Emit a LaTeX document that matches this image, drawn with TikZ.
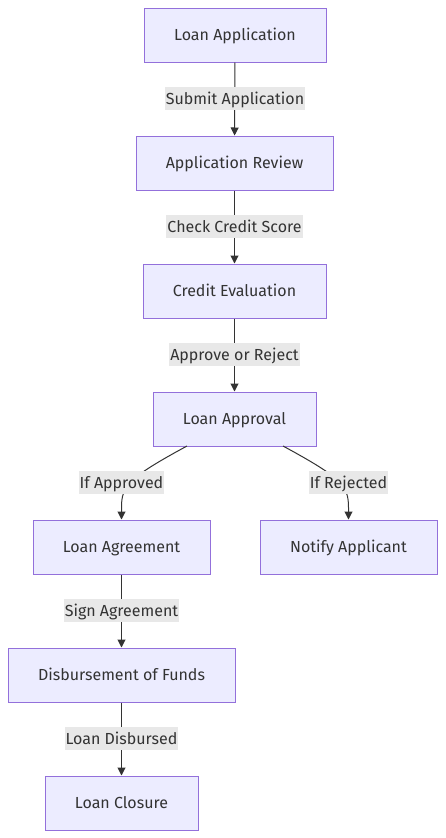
\documentclass[tikz,border=0pt]{standalone}
\usepackage{fontspec}
\setmainfont{Fira Sans}
\usetikzlibrary{arrows.meta,calc}
\definecolor{nodefill}{HTML}{ECECFF}
\definecolor{nodedraw}{HTML}{9370DB}
\definecolor{txt}{HTML}{333333}
\definecolor{lblbg}{HTML}{E8E8E8}
\tikzset{
  box/.style={draw=nodedraw, fill=nodefill, line width=1pt, minimum height=54pt, inner sep=0pt, text height=13.5pt, text depth=2.5pt, text=txt, font=\fontsize{16}{19}\selectfont},
  lbl/.style={fill=lblbg, text=txt, inner xsep=1pt, inner ysep=3.75pt, text height=13.5pt, text depth=2.5pt, font=\fontsize{16}{19}\selectfont},
  arr/.style={draw=txt, line width=1pt, -{Triangle[length=8pt,width=8pt]}}
}
\begin{document}
\begin{tikzpicture}[x=1pt,y=-1pt]
\useasboundingbox (0,0) rectangle (445,838);
\node[box, minimum width=182pt] (la) at (235,35) {Loan Application};
\node[box, minimum width=197pt] (ar) at (234.5,163) {Application Review};
\node[box, minimum width=183pt] (ce) at (234.5,291) {Credit Evaluation};
\node[box, minimum width=163pt] (ap) at (234.5,419) {Loan Approval};
\node[box, minimum width=177pt] (ag) at (121.5,547) {Loan Agreement};
\node[box, minimum width=177pt] (na) at (348.5,547) {Notify Applicant};
\node[box, minimum width=227pt] (df) at (121.5,675) {Disbursement of Funds};
\node[box, minimum width=153pt] (lc) at (121.5,803) {Loan Closure};

\draw[arr] (la) -- (ar);
\draw[arr] (ar) -- (ce);
\draw[arr] (ce) -- (ap);
\draw[arr] (ag) -- (df);
\draw[arr] (df) -- (lc);
\coordinate (apL) at (187,446);
\coordinate (apR) at (283,446);
\draw[arr] (apL) .. controls (128,478) and (121.5,486) .. ($(ag.north)+(0,-12)$) -- (ag.north);
\draw[arr] (apR) .. controls (342,478) and (348.5,486) .. ($(na.north)+(0,-12)$) -- (na.north);

\node[lbl] (l1) at (235,98.5) {Submit Application};
\node[lbl] (l2) at (234.5,226.5) {Check Credit Score};
\node[lbl] (l3) at (234.5,354.5) {Approve or Reject};
\node[lbl] (l4) at (121.5,482.5) {If Approved};
\node[lbl] (l5) at (348.5,482.5) {If Rejected};
\node[lbl] (l6) at (121.5,610.5) {Sign Agreement};
\node[lbl] (l7) at (121.5,738.5) {Loan Disbursed};
\end{tikzpicture}
\end{document}
